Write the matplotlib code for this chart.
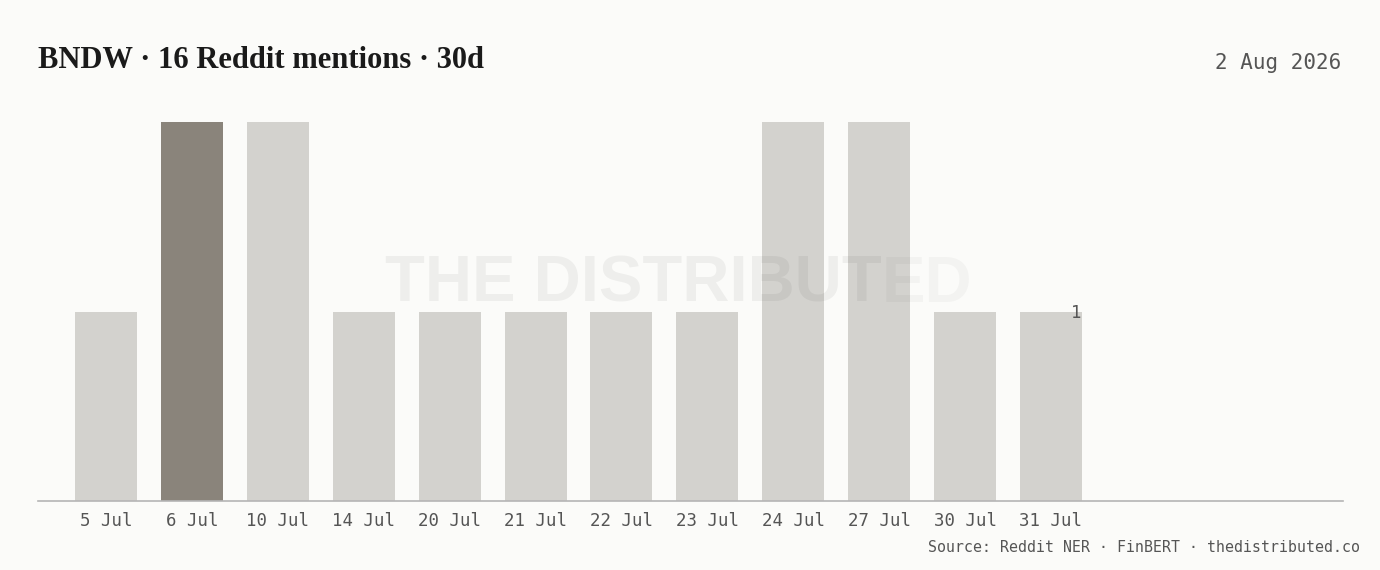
import matplotlib
matplotlib.use("Agg")
import matplotlib.pyplot as plt
import numpy as np

categories = ["5 Jul", "6 Jul", "10 Jul", "14 Jul", "20 Jul", "21 Jul", "22 Jul",
              "23 Jul", "24 Jul", "27 Jul", "30 Jul", "31 Jul"]
mentions = [1, 2, 2, 1, 1, 1, 1, 1, 2, 2, 1, 1]
highlight_index = 1
title = "BNDW · 16 Reddit mentions · 30d"
date_text = "2 Aug 2026"
source_text = "Source: Reddit NER · FinBERT · thedistributed.co"
watermark_main = "THE DISTRIBUT"
watermark_fade = "ED"

BG = "#fbfbf9"
BAR = "#d3d2ce"
BAR_HI = "#8a847b"
TXT = "#555555"
MONO = ["DejaVu Sans Mono"]

W, H = 1380, 570
fig = plt.figure(figsize=(W / 100, H / 100), dpi=100, facecolor=BG)
ax = fig.add_axes([38 / W, 69 / H, (1343 - 38) / W, (501 - 122) / H])
ax.set_facecolor(BG)

x = np.arange(len(categories))
colors = [BAR_HI if i == highlight_index else BAR for i in range(len(categories))]
ax.bar(x, mentions, width=0.722, color=colors, zorder=2)

ax.set_xlim(-0.7916, 14.40)
ax.set_ylim(0, max(mentions))
ax.set_xticks(x)
ax.set_xticklabels(categories, fontfamily=MONO, fontsize=12.5, color=TXT)
ax.tick_params(axis="x", length=0, pad=8)
ax.set_yticks([])
for s in ["top", "right", "left"]:
    ax.spines[s].set_visible(False)
ax.spines["bottom"].set_color("#b5b5b5")
ax.spines["bottom"].set_linewidth(1.2)

# value label on last bar
ax.text(x[-1] + 0.35, mentions[-1], str(mentions[-1]), ha="right", va="center_baseline",
        fontfamily=MONO, fontsize=12.5, color=TXT, zorder=4)

# watermark
wm_font = dict(fontfamily=["Liberation Sans Narrow", "Liberation Sans"], fontweight="bold",
               fontsize=47, color="black")
t1 = fig.text(385 / W, 1 - 285 / H, watermark_main, ha="left", va="center",
              alpha=0.05, zorder=5, **wm_font)
fig.canvas.draw()
bb = t1.get_window_extent()
fig.text(bb.x1 / W, 1 - 285 / H, watermark_fade, ha="left", va="center",
         alpha=0.03, zorder=5, **wm_font)

fig.text(38 / W, 1 - 60 / H, title, ha="left", va="center",
         fontfamily=["Liberation Serif", "DejaVu Serif"], fontweight="bold",
         fontsize=22, color="#1a1a1a")
fig.text(1341 / W, 1 - 63 / H, date_text, ha="right", va="center",
         fontfamily=MONO, fontsize=15, color=TXT)
fig.text(1360 / W, 1 - 547 / H, source_text, ha="right", va="center",
         fontfamily=MONO, fontsize=10.7, color=TXT)

fig.savefig("out.png", dpi=100, facecolor=BG)
